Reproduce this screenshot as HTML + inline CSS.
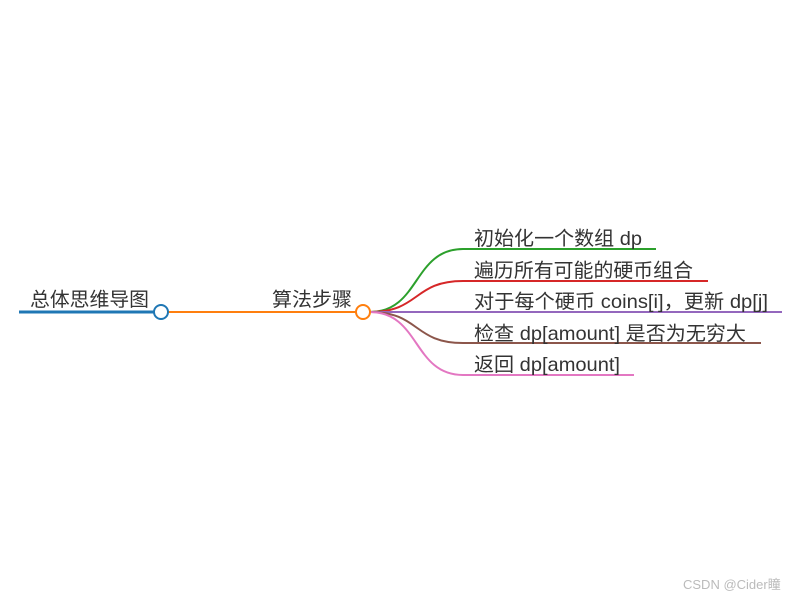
<!DOCTYPE html>
<html><head><meta charset="utf-8"><style>
html,body{margin:0;padding:0;background:#fff;}
svg text{font-family:"Liberation Sans","Noto Sans CJK SC",sans-serif;fill:#333;}
</style></head><body>
<svg width="800" height="600" viewBox="0 0 800 600" xmlns="http://www.w3.org/2000/svg">
<g fill="none" stroke-width="2">
<line x1="19" y1="312" x2="155" y2="312" stroke="#1f77b4" stroke-width="3"/>
<line x1="167" y1="312" x2="357" y2="312" stroke="#ff7f0e"/>
<path d="M370 312 C 420 312, 413 249, 463 249 L 656 249" stroke="#2ca02c"/>
<path d="M370 312 C 420 312, 413 281, 463 281 L 708 281" stroke="#d62728"/>
<path d="M370 312 L 782 312" stroke="#9467bd"/>
<path d="M370 312 C 420 312, 413 343, 463 343 L 761 343" stroke="#8c564b"/>
<path d="M370 312 C 420 312, 413 375, 463 375 L 634 375" stroke="#e377c2"/>
<circle cx="161" cy="312" r="7" fill="#fff" stroke="#1f77b4"/>
<circle cx="363" cy="312" r="7" fill="#fff" stroke="#ff7f0e"/>
</g>
<g font-size="19.5">
<text x="30" y="306" textLength="119" lengthAdjust="spacingAndGlyphs">总体思维导图</text>
<text x="272" y="306" textLength="80" lengthAdjust="spacingAndGlyphs">算法步骤</text>
<text x="474" y="245" textLength="168" lengthAdjust="spacingAndGlyphs">初始化一个数组 dp</text>
<text x="474" y="277" textLength="219" lengthAdjust="spacingAndGlyphs">遍历所有可能的硬币组合</text>
<text x="474" y="308" textLength="294" lengthAdjust="spacingAndGlyphs">对于每个硬币 coins[i]，更新 dp[j]</text>
<text x="474" y="340" textLength="272" lengthAdjust="spacingAndGlyphs">检查 dp[amount] 是否为无穷大</text>
<text x="474" y="371" textLength="146" lengthAdjust="spacingAndGlyphs">返回 dp[amount]</text>
</g>
<text x="683" y="589" font-size="13" style="fill:#bbb">CSDN @Cider瞳</text>
</svg>
</body></html>
